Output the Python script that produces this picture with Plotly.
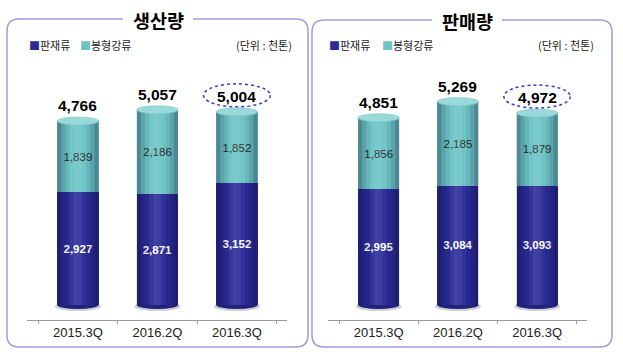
import plotly.graph_objects as go

# ---------------- data ----------------
quarters = ["2015.3Q", "2016.2Q", "2016.3Q"]
prod_plate = [2927, 2871, 3152]      # 판재류 (생산량)
prod_bar = [1839, 2186, 1852]        # 봉형강류 (생산량)
sales_plate = [2995, 3084, 3093]     # 판재류 (판매량)
sales_bar = [1856, 2185, 1879]       # 봉형강류 (판매량)
panel_titles = ["생산량", "판매량"]
series_names = ["판재류", "봉형강류"]
unit_label = "(단위 : 천톤)"
highlight = "2016.3Q"

# ---------------- style ----------------
W, H = 623, 355
DARK = "#2b2b97"
TEAL = "#6cc3c5"
CAP = "#9ad9da"
BOTTOM = "#22227a"
BORDER = "#9f9cd9"
KFONT = "Noto Sans CJK KR"
NFONT = "Liberation Sans"
BAR_W = 0.52
YR = [-389, 6347]
XR = [-0.64, 2.63]


def X(px):
    return px / W


def Y(py):
    return 1 - py / H


fig = go.Figure()

panels = [
    dict(plate=prod_plate, bar=prod_bar, xa="x", ya="y", dom=(27, 287),
         box=(7, 19, 308, 347), title=panel_titles[0], tx=158,
         leg=(27, 78), unit_x=294),
    dict(plate=sales_plate, bar=sales_bar, xa="x2", ya="y2", dom=(328, 587),
         box=(312, 20, 612, 347), title=panel_titles[1], tx=467,
         leg=(327, 380), unit_x=596),
]

shapes = []
annotations = []
shade = [-0.30, -0.16, -0.06, 0.05, 0.11, 0.09, 0.03, -0.06, -0.16, -0.30]

for p in panels:
    totals = [a + b for a, b in zip(p["plate"], p["bar"])]
    fig.add_trace(go.Bar(
        x=quarters, y=p["plate"], name=series_names[0], xaxis=p["xa"], yaxis=p["ya"],
        marker=dict(color=DARK, line=dict(width=0)), width=BAR_W,
        text=p["plate"], texttemplate="%{y:,}", textposition="inside",
        insidetextanchor="middle",
        insidetextfont=dict(family=NFONT, size=11.5, color="white", weight="bold"),
        showlegend=False, hoverinfo="skip"))
    fig.add_trace(go.Bar(
        x=quarters, y=p["bar"], name=series_names[1], xaxis=p["xa"], yaxis=p["ya"],
        marker=dict(color=TEAL, line=dict(width=0)), width=BAR_W,
        text=p["bar"], texttemplate="%{y:,}", textposition="inside",
        insidetextanchor="middle",
        insidetextfont=dict(family=NFONT, size=11.5, color="#2a2a2a"),
        showlegend=False, hoverinfo="skip"))

    xref, yref = p["xa"], p["ya"]
    for i, (q, tot) in enumerate(zip(quarters, totals)):
        left = i - BAR_W / 2
        # shadow + bottom ellipse (behind)
        shapes.append(dict(type="circle", xref=xref, yref=yref, layer="below",
                           x0=left - 0.03, x1=left + BAR_W + 0.03,
                           ysizemode="pixel", yanchor=0, y0=-6, y1=3,
                           fillcolor="rgba(60,60,80,0.25)", line=dict(width=0)))
        shapes.append(dict(type="circle", xref=xref, yref=yref, layer="below",
                           x0=left, x1=left + BAR_W,
                           ysizemode="pixel", yanchor=0, y0=-4, y1=4,
                           fillcolor=BOTTOM, line=dict(width=0)))
        # cylinder shading strips
        n = len(shade)
        for k, s in enumerate(shade):
            col = f"rgba(255,255,255,{s})" if s > 0 else f"rgba(0,0,30,{-s})"
            shapes.append(dict(type="rect", xref=xref, yref=yref, layer="above",
                               x0=left + k * BAR_W / n, x1=left + (k + 1) * BAR_W / n,
                               y0=0, y1=tot, fillcolor=col, line=dict(width=0)))
        # top cap
        shapes.append(dict(type="circle", xref=xref, yref=yref, layer="above",
                           x0=left, x1=left + BAR_W,
                           ysizemode="pixel", yanchor=tot, y0=-4, y1=4,
                           fillcolor=CAP, line=dict(width=0.6, color="#7fc6c8")))
        # total label
        annotations.append(dict(xref=xref, yref=yref, x=q, y=tot, yanchor="bottom",
                                xanchor="center", yshift=5, showarrow=False,
                                text=f"{tot:,}",
                                font=dict(family=NFONT, size=15.5, color="black",
                                          weight="bold")))
        if q == highlight:
            shapes.append(dict(type="circle", xref=xref, yref=yref, layer="above",
                               x0=i - 0.42, x1=i + 0.42,
                               ysizemode="pixel", yanchor=tot, y0=5, y1=28,
                               fillcolor="rgba(0,0,0,0)",
                               line=dict(color="#3a3ac4", width=1.5, dash="dot")))

    # panel border (rounded)
    x0, y0, x1, y1 = p["box"]
    r = 12
    path = (f"M {X(x0 + r)},{Y(y0)} L {X(x1 - r)},{Y(y0)} "
            f"Q {X(x1)},{Y(y0)} {X(x1)},{Y(y0 + r)} L {X(x1)},{Y(y1 - r)} "
            f"Q {X(x1)},{Y(y1)} {X(x1 - r)},{Y(y1)} L {X(x0 + r)},{Y(y1)} "
            f"Q {X(x0)},{Y(y1)} {X(x0)},{Y(y1 - r)} L {X(x0)},{Y(y0 + r)} "
            f"Q {X(x0)},{Y(y0)} {X(x0 + r)},{Y(y0)} Z")
    shapes.append(dict(type="path", xref="paper", yref="paper", path=path,
                       line=dict(color=BORDER, width=1.5), layer="below"))
    # gap for title
    tx = p["tx"]
    shapes.append(dict(type="rect", xref="paper", yref="paper", layer="above",
                       x0=X(tx - 35), x1=X(tx + 35), y0=Y(y0 + 5), y1=Y(y0 - 5),
                       fillcolor="white", line=dict(width=0)))
    annotations.append(dict(xref="paper", yref="paper", x=X(tx), y=Y(y0 + 1),
                            xanchor="center", yanchor="middle",
                            showarrow=False, text=p["title"],
                            font=dict(family=KFONT, size=18.5, color="black", weight="bold")))
    # legend-like labels
    for lx, name, col in zip(p["leg"], series_names, [DARK, TEAL]):
        annotations.append(dict(xref="paper", yref="paper", x=X(lx), y=Y(45),
                                xanchor="left", yanchor="middle", showarrow=False,
                                text=f"<span style='color:{col};font-size:11px'>■</span>{name}",
                                font=dict(family=KFONT, size=11, color="#222222")))
    annotations.append(dict(xref="paper", yref="paper", x=X(p["unit_x"]), y=Y(45),
                            xanchor="right", yanchor="middle", showarrow=False,
                            text=unit_label,
                            font=dict(family=KFONT, size=11, color="#222222")))

ydom = [Y(320), Y(60)]
axis_x = dict(type="category", range=XR, showline=True, linecolor="#9a9a9a",
              linewidth=1, ticks="outside", ticklen=3, tickcolor="#9a9a9a",
              tickson="boundaries", showgrid=False, zeroline=False, fixedrange=True,
              tickfont=dict(family=NFONT, size=13, color="#222222"))
axis_y = dict(range=YR, visible=False, showgrid=False, zeroline=False, fixedrange=True)

fig.update_layout(
    width=W, height=H, margin=dict(l=0, r=0, t=0, b=0),
    paper_bgcolor="white", plot_bgcolor="rgba(0,0,0,0)",
    barmode="stack", showlegend=False,
    xaxis=dict(axis_x, domain=[X(27), X(287)], anchor="y"),
    yaxis=dict(axis_y, domain=ydom, anchor="x"),
    xaxis2=dict(axis_x, domain=[X(328), X(587)], anchor="y2"),
    yaxis2=dict(axis_y, domain=ydom, anchor="x2"),
    shapes=shapes, annotations=annotations,
)

fig.write_html("out.html", config={"displayModeBar": False},
               post_script="document.body.style.margin='0px';")
